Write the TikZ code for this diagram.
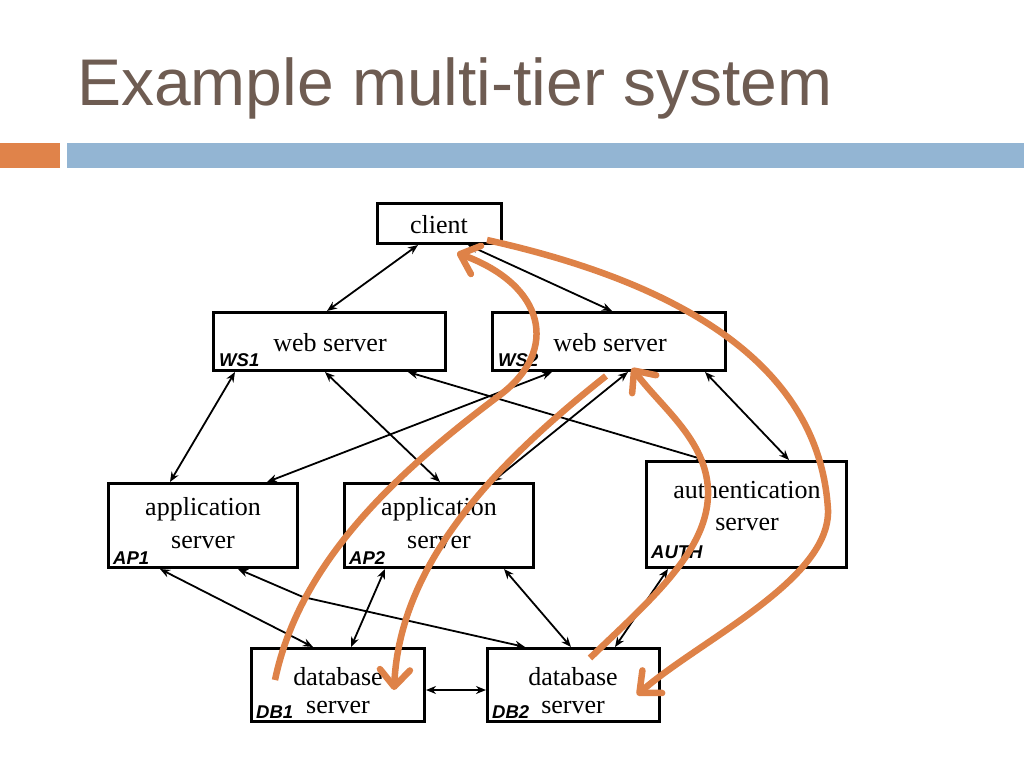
\documentclass[tikz,border=0pt]{standalone}
\usepackage{fontspec}
\setmainfont{Liberation Serif}
\newfontfamily\lblfont{Liberation Sans}
\newfontfamily\ttlfont{Liberation Sans}
\usetikzlibrary{arrows.meta,calc}
\definecolor{ttlcol}{RGB}{110,92,82}
\definecolor{orng}{RGB}{222,130,72}
\definecolor{barblue}{RGB}{147,181,211}
\definecolor{barorange}{RGB}{224,131,74}
\begin{document}
\begin{tikzpicture}[x=1pt,y=-1pt,
  box/.style n args={2}{draw=black, line width=3pt, fill=white, minimum width=#1, minimum height=#2, inner sep=0pt},
  txt/.style={font=\fontsize{26}{30}\selectfont, anchor=base, inner sep=0pt, text=black},
  lbl/.style={font=\lblfont\fontsize{18.5}{20}\selectfont\bfseries\itshape, anchor=base west, inner sep=0pt},
  conn/.style={{Stealth[length=10pt,width=8pt]}-{Stealth[length=10pt,width=8pt]}, line width=1.8pt},
  orarrow/.style={draw=orng, line width=6.5pt, -{Straight Barb[length=17pt,width=30pt,round]}},
  ttl/.style={font=\ttlfont\fontsize{66}{70}\selectfont, text=ttlcol, anchor=base west, inner sep=0pt}]
\useasboundingbox (0,0) rectangle (1024,768);

% title and bars
\node[ttl] (title) at (77,105) {Example multi-tier system};
\fill[barorange] (0,143) rectangle (60,168);
\fill[barblue] (67,143) rectangle (1024,168);

% boxes
\node[box={124}{40}] (client) at (439.5,223.5) {};
\node[box={232}{58}] (ws1) at (329.5,341.5) {};
\node[box={233}{58}] (ws2) at (609,341.5) {};
\node[box={189}{84}] (ap1) at (203,525.5) {};
\node[box={189}{84}] (ap2) at (439,525.5) {};
\node[box={200}{106}] (auth) at (746.5,514.5) {};
\node[box={173}{73}] (db1) at (338,685) {};
\node[box={172}{73}] (db2) at (573.5,685) {};

% texts
\node[txt] (clientt) at (439,233) {client};
\node[txt] (ws1t) at (330,351) {web server};
\node[txt] (ws2t) at (610,351) {web server};
\node[txt] (ap1t1) at (203,515) {application};
\node[txt] (ap1t2) at (203,548) {server};
\node[txt] (ap2t1) at (439,515) {application};
\node[txt] (ap2t2) at (439,548) {server};
\node[txt] (autht1) at (747,498) {authentication};
\node[txt] (autht2) at (747,530) {server};
\node[txt] (db1t1) at (338,685) {database};
\node[txt] (db1t2) at (338,713) {server};
\node[txt] (db2t1) at (573,685) {database};
\node[txt] (db2t2) at (573,713) {server};

% labels
\node[lbl] (ws1l) at (219,366) {WS1};
\node[lbl] (ws2l) at (498,366) {WS2};
\node[lbl] (ap1l) at (113,564) {AP1};
\node[lbl] (ap2l) at (349,564) {AP2};
\node[lbl] (authl) at (651,558) {AUTH};
\node[lbl] (db1l) at (256,718) {DB1};
\node[lbl] (db2l) at (492,718) {DB2};

% black connectors
\draw[conn] ($(client.south west)+(42,0)$) -- ($(ws1.north west)+(115,0)$);
\draw[conn] ($(client.south west)+(92,0)$) -- ($(ws2.north west)+(121,0)$);
\draw[conn] ($(ws1.south west)+(23,0)$) -- ($(ap1.north west)+(63,0)$);
\draw[conn] ($(ws1.south west)+(113,0)$) -- ($(ap2.north west)+(97,0)$);
\draw[conn] ($(ws1.south west)+(196,0)$) -- ($(auth.north west)+(60,0)$);
\draw[conn] ($(ws2.south west)+(61,0)$) -- ($(ap1.north west)+(160,0)$);
\draw[conn] ($(ws2.south west)+(137,0)$) -- ($(ap2.north west)+(149,0)$);
\draw[conn] ($(ws2.south west)+(214,0)$) -- ($(auth.north west)+(144,0)$);
\draw[conn] ($(ap1.south west)+(53,0)$) -- ($(db1.north west)+(63,0)$);
\coordinate (kink) at (303,597);
\draw[conn] ($(ap1.south west)+(131,0)$) -- (kink) -- ($(db2.north west)+(39,0)$);
\draw[conn] ($(ap2.south west)+(42,0)$) -- ($(db1.north west)+(101,0)$);
\draw[conn] ($(ap2.south west)+(161,0)$) -- ($(db2.north west)+(85,0)$);
\draw[conn] ($(auth.south west)+(23,0)$) -- ($(db2.north west)+(129,0)$);
\draw[conn, line width=2.6pt] ($(db1.east)+(0,5)$) -- ($(db2.west)+(0,5)$);

% orange flows
\coordinate (o1s) at (275,680);
\coordinate (o1m) at (500,395);
\coordinate (o1e) at (457,253);
\draw[orarrow] (o1s) .. controls (300,560) and (400,470) .. (o1m)
               .. controls (560,350) and (545,285) .. (o1e);

\coordinate (o2s) at (487,240);
\coordinate (o2m) at (828,510);
\coordinate (o2e) at (637,695);
\draw[orarrow] (o2s) .. controls (690,285) and (820,370) .. (o2m)
               .. controls (830,580) and (700,640) .. (o2e);

\coordinate (o3s) at (606,376);
\coordinate (o3e) at (394,690);
\draw[orarrow] (o3s) .. controls (500,460) and (400,560) .. (o3e);

\coordinate (o4s) at (590,658);
\coordinate (o4m) at (708,490);
\coordinate (o4e) at (632,368);
\draw[orarrow] (o4s) .. controls (650,600) and (710,550) .. (o4m)
               .. controls (706,440) and (662,408) .. (o4e);
\end{tikzpicture}
\end{document}
